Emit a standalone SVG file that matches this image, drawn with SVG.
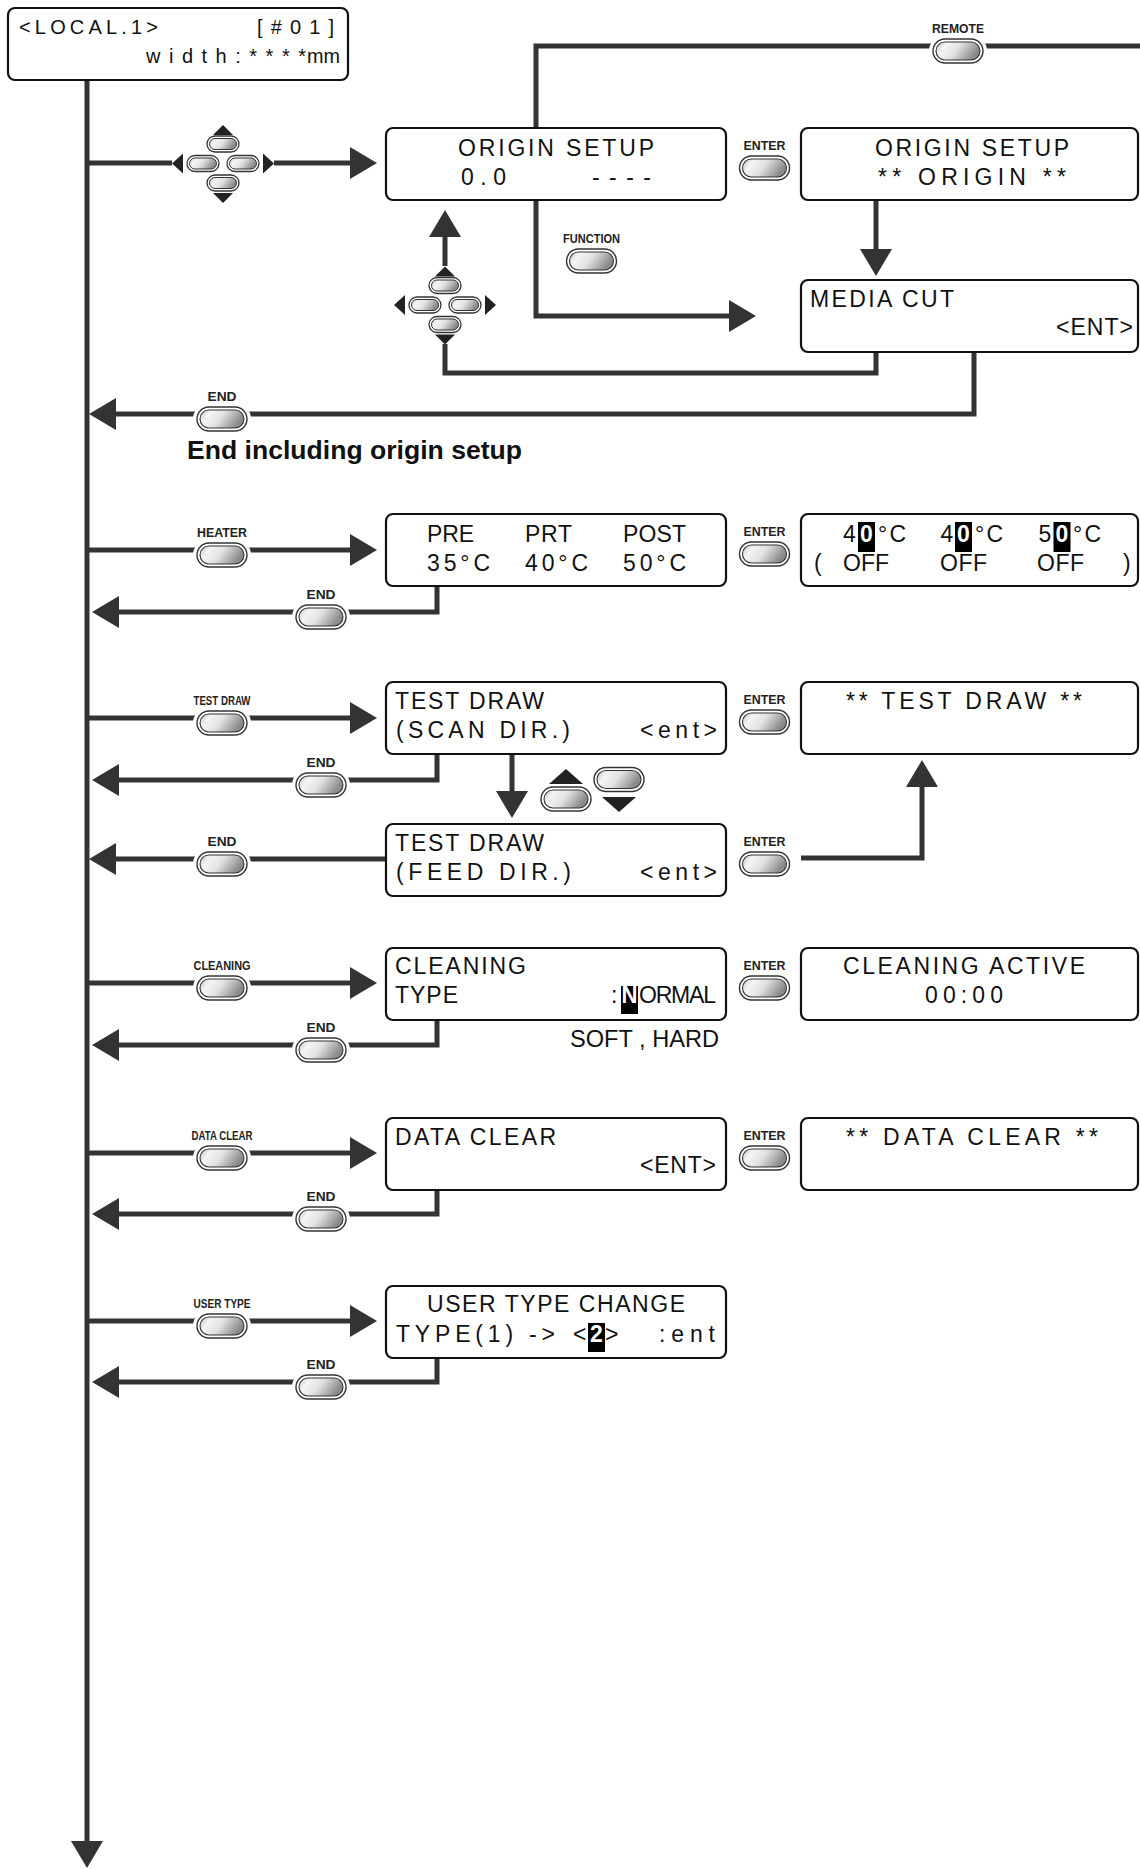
<svg xmlns="http://www.w3.org/2000/svg" xmlns:xlink="http://www.w3.org/1999/xlink" width="1140" height="1869" viewBox="0 0 1140 1869">
<defs>
<style>
.ln{fill:none;stroke:#333;stroke-width:5;stroke-linecap:butt;stroke-linejoin:miter}
.bx{fill:#fff;stroke:#111;stroke-width:2.2}
.lcd{font-family:"Liberation Sans",Arial,sans-serif;font-size:23px;fill:#111}
.sm{font-family:"Liberation Sans",Arial,sans-serif;font-size:20px;fill:#111}
.bl{font-family:"Liberation Sans",Arial,sans-serif;font-weight:bold;font-size:13px;fill:#222}
.hl{fill:#000}
.wt{fill:#fff;font-weight:bold}
.tri{fill:#222}
</style>
<linearGradient id="g" x1="0" y1="0" x2="1" y2="0.3">
<stop offset="0" stop-color="#c4c4c4"/>
<stop offset="0.25" stop-color="#f4f4f4"/>
<stop offset="0.55" stop-color="#e2e2e2"/>
<stop offset="1" stop-color="#8a8a8a"/>
</linearGradient>
<marker id="ah" markerUnits="userSpaceOnUse" viewBox="0 0 27 32" refX="0" refY="16" markerWidth="27" markerHeight="32" orient="auto">
<path d="M0,0 L27,16 L0,32 z" fill="#333"/>
</marker>
<g id="btn">
<rect x="-25" y="-12" width="50" height="24" rx="12" fill="#fff" stroke="#333" stroke-width="1.4"/>
<rect x="-22" y="-9" width="44" height="18" rx="9" fill="url(#g)" stroke="#333" stroke-width="1.1"/>
</g>
<g id="btnh">
<rect x="-29" y="-16" width="58" height="32" rx="16" fill="#fff"/>
<use href="#btn"/>
</g>
<g id="sbtn">
<rect x="-16" y="-8" width="32" height="16" rx="8" fill="#fff" stroke="#333" stroke-width="1.3"/>
<rect x="-13.5" y="-5.5" width="27" height="11" rx="5.5" fill="url(#g)" stroke="#333" stroke-width="1"/>
</g>
<g id="cluster">
<path class="tri" d="M-10,-28.5 L0,-38.5 L10,-28.5 z"/>
<path class="tri" d="M-10,29.5 L0,39.5 L10,29.5 z"/>
<path class="tri" d="M-40,-10 L-51,0 L-40,10 z"/>
<path class="tri" d="M40,-10 L51,0 L40,10 z"/>
<use href="#sbtn" x="0" y="-19.5"/>
<use href="#sbtn" x="0" y="19.5"/>
<use href="#sbtn" x="-20" y="0"/>
<use href="#sbtn" x="20" y="0"/>
</g>
</defs>
<rect width="1140" height="1869" fill="#fff"/>

<g id="connectors">
<path class="ln" d="M87,80 V1841" marker-end="url(#ah)"/>
<path class="ln" d="M87,163 H172"/>
<path class="ln" d="M274,163 H350" marker-end="url(#ah)"/>
<path class="ln" d="M536,128 V46 H1140"/>
<path class="ln" d="M536,201 V316 H729" marker-end="url(#ah)"/>
<path class="ln" d="M876,201 V249" marker-end="url(#ah)"/>
<path class="ln" d="M876,352 V373 H445 V344"/>
<path class="ln" d="M445,266 V237" marker-end="url(#ah)"/>
<path class="ln" d="M974,352 V414 H116" marker-end="url(#ah)"/>
<path class="ln" d="M87,550 H350" marker-end="url(#ah)"/>
<path class="ln" d="M437,586 V612 H119" marker-end="url(#ah)"/>
<path class="ln" d="M87,718 H350" marker-end="url(#ah)"/>
<path class="ln" d="M437,754 V780 H119" marker-end="url(#ah)"/>
<path class="ln" d="M512,754 V791" marker-end="url(#ah)"/>
<path class="ln" d="M385,859 H116" marker-end="url(#ah)"/>
<path class="ln" d="M801,858 H922 V787" marker-end="url(#ah)"/>
<path class="ln" d="M87,983 H350" marker-end="url(#ah)"/>
<path class="ln" d="M437,1020 V1045 H119" marker-end="url(#ah)"/>
<path class="ln" d="M87,1153 H350" marker-end="url(#ah)"/>
<path class="ln" d="M437,1190 V1214 H119" marker-end="url(#ah)"/>
<path class="ln" d="M87,1321 H350" marker-end="url(#ah)"/>
<path class="ln" d="M437,1358 V1382 H119" marker-end="url(#ah)"/>
</g>

<g id="local">
<rect class="bx" x="8" y="8" width="340" height="72" rx="7"/>
<text class="sm" x="19" y="34" textLength="139">&lt;LOCAL.1&gt;</text>
<text class="sm" x="257" y="34" textLength="77">[#01]</text>
<text class="sm" x="146" y="63" textLength="160">width:****</text>
<text class="sm" x="307" y="63" textLength="33" lengthAdjust="spacingAndGlyphs">mm</text>
</g>

<g id="origin-setup">
<rect class="bx" x="386" y="128" width="340" height="72" rx="7"/>
<text class="lcd" x="458" y="156" textLength="196">ORIGIN SETUP</text>
<text class="lcd" x="461" y="185" textLength="45">0.0</text>
<text class="lcd" x="592" y="185" textLength="59">----</text>
</g>

<g id="origin-run">
<rect class="bx" x="801" y="128" width="337" height="72" rx="7"/>
<text class="lcd" x="875" y="156" textLength="194">ORIGIN SETUP</text>
<text class="lcd" x="878" y="185" textLength="188">** ORIGIN **</text>
</g>

<g id="media-cut">
<rect class="bx" x="801" y="280" width="337" height="72" rx="7"/>
<text class="lcd" x="810" y="307" textLength="144">MEDIA CUT</text>
<text class="lcd" x="1056" y="335" textLength="77">&lt;ENT&gt;</text>
</g>

<g id="heater-box">
<rect class="bx" x="386" y="514" width="340" height="72" rx="7"/>
<text class="lcd" x="427" y="542" textLength="47">PRE</text>
<text class="lcd" x="525" y="542" textLength="47">PRT</text>
<text class="lcd" x="623" y="542" textLength="63">POST</text>
<text class="lcd" x="427" y="571" textLength="63">35°C</text>
<text class="lcd" x="525" y="571" textLength="63">40°C</text>
<text class="lcd" x="623" y="571" textLength="63">50°C</text>
</g>

<g id="heater-set">
<rect class="bx" x="801" y="514" width="337" height="72" rx="7"/>
<rect class="hl" x="858" y="522" width="17" height="30"/>
<rect class="hl" x="955" y="522" width="17" height="30"/>
<rect class="hl" x="1053.5" y="522" width="17" height="30"/>
<text class="lcd" x="843" y="542">4</text>
<text class="lcd wt" x="860" y="542">0</text>
<text class="lcd" x="878" y="542" textLength="28">°C</text>
<text class="lcd" x="940.5" y="542">4</text>
<text class="lcd wt" x="957" y="542">0</text>
<text class="lcd" x="975" y="542" textLength="28">°C</text>
<text class="lcd" x="1038.5" y="542">5</text>
<text class="lcd wt" x="1055.5" y="542">0</text>
<text class="lcd" x="1073" y="542" textLength="28">°C</text>
<text class="lcd" x="814" y="571">(</text>
<text class="lcd" x="843" y="571" textLength="46">OFF</text>
<text class="lcd" x="940" y="571" textLength="47">OFF</text>
<text class="lcd" x="1037" y="571" textLength="47">OFF</text>
<text class="lcd" x="1123" y="571">)</text>
</g>

<g id="test-scan">
<rect class="bx" x="386" y="682" width="340" height="72" rx="7"/>
<text class="lcd" x="395" y="709" textLength="149">TEST DRAW</text>
<text class="lcd" x="396" y="738" textLength="174">(SCAN DIR.)</text>
<text class="lcd" x="640" y="738" textLength="77">&lt;ent&gt;</text>
</g>

<g id="test-run">
<rect class="bx" x="801" y="682" width="337" height="72" rx="7"/>
<text class="lcd" x="846" y="709" textLength="236">** TEST DRAW **</text>
</g>

<g id="test-feed">
<rect class="bx" x="386" y="824" width="340" height="72" rx="7"/>
<text class="lcd" x="395" y="851" textLength="149">TEST DRAW</text>
<text class="lcd" x="396" y="880" textLength="175">(FEED DIR.)</text>
<text class="lcd" x="640" y="880" textLength="77">&lt;ent&gt;</text>
</g>

<g id="cleaning-box">
<rect class="bx" x="386" y="948" width="340" height="72" rx="7"/>
<text class="lcd" x="395" y="974" textLength="131">CLEANING</text>
<text class="lcd" x="395" y="1003" textLength="63">TYPE</text>
<rect class="hl" x="621" y="986" width="17" height="28"/>
<text class="lcd" x="611" y="1003">:</text>
<text class="lcd wt" x="621.5" y="1003" textLength="16" lengthAdjust="spacingAndGlyphs">N</text>
<text class="lcd" x="639" y="1003" textLength="77">ORMAL</text>
</g>

<g id="cleaning-run">
<rect class="bx" x="801" y="948" width="337" height="72" rx="7"/>
<text class="lcd" x="843" y="974" textLength="242">CLEANING ACTIVE</text>
<text class="lcd" x="925" y="1003" textLength="78">00:00</text>
</g>

<g id="data-clear-box">
<rect class="bx" x="386" y="1118" width="340" height="72" rx="7"/>
<text class="lcd" x="395" y="1145" textLength="161">DATA CLEAR</text>
<text class="lcd" x="640" y="1173" textLength="76">&lt;ENT&gt;</text>
</g>

<g id="data-clear-run">
<rect class="bx" x="801" y="1118" width="337" height="72" rx="7"/>
<text class="lcd" x="846" y="1145" textLength="252">** DATA CLEAR **</text>
</g>

<g id="user-type-box">
<rect class="bx" x="386" y="1286" width="340" height="72" rx="7"/>
<text class="lcd" x="427" y="1312" textLength="258">USER TYPE CHANGE</text>
<text class="lcd" x="396" y="1342" textLength="159">TYPE(1) -&gt;</text>
<rect class="hl" x="588" y="1323" width="17" height="29"/>
<text class="lcd" x="573" y="1342">&lt;</text>
<text class="lcd wt" x="590" y="1342">2</text>
<text class="lcd" x="605" y="1342">&gt;</text>
<text class="lcd" x="659" y="1342" textLength="56">:ent</text>
</g>

<g id="btn-remote">
<use href="#btnh" x="958" y="51"/>
<text class="bl" x="932" y="33" textLength="52" lengthAdjust="spacingAndGlyphs">REMOTE</text>
</g>
<g id="btn-jog1"><use href="#cluster" x="223" y="163.5"/></g>
<g id="btn-jog2"><use href="#cluster" x="445" y="305"/></g>
<g id="btn-function">
<use href="#btn" x="591.5" y="261"/>
<text class="bl" x="563" y="243" textLength="57" lengthAdjust="spacingAndGlyphs">FUNCTION</text>
</g>
<g id="btn-enter-origin">
<use href="#btn" x="764.5" y="168"/>
<text class="bl" x="743.5" y="150" textLength="42" lengthAdjust="spacingAndGlyphs">ENTER</text>
</g>
<g id="btn-end-origin">
<use href="#btnh" x="222" y="419"/>
<text class="bl" x="207.5" y="401" textLength="29" lengthAdjust="spacingAndGlyphs">END</text>
</g>
<text id="end-note" x="187" y="459" font-family="'Liberation Sans',Arial,sans-serif" font-weight="bold" font-size="26" fill="#111" textLength="335" lengthAdjust="spacingAndGlyphs">End including origin setup</text>

<g id="btn-heater">
<use href="#btnh" x="222" y="555"/>
<text class="bl" x="197" y="537" textLength="50" lengthAdjust="spacingAndGlyphs">HEATER</text>
</g>
<g id="btn-end-heater">
<use href="#btnh" x="321" y="617"/>
<text class="bl" x="306.5" y="599" textLength="29" lengthAdjust="spacingAndGlyphs">END</text>
</g>
<g id="btn-enter-heater">
<use href="#btn" x="764.5" y="554"/>
<text class="bl" x="743.5" y="536" textLength="42" lengthAdjust="spacingAndGlyphs">ENTER</text>
</g>

<g id="btn-testdraw">
<use href="#btnh" x="222" y="723"/>
<text class="bl" x="193.5" y="705" textLength="57" lengthAdjust="spacingAndGlyphs">TEST DRAW</text>
</g>
<g id="btn-end-test">
<use href="#btnh" x="321" y="785"/>
<text class="bl" x="306.5" y="767" textLength="29" lengthAdjust="spacingAndGlyphs">END</text>
</g>
<g id="btn-enter-test">
<use href="#btn" x="764.5" y="722"/>
<text class="bl" x="743.5" y="704" textLength="42" lengthAdjust="spacingAndGlyphs">ENTER</text>
</g>
<g id="btn-updown">
<path class="tri" d="M549,784 L566,769 L583,784 z"/>
<use href="#btn" x="566" y="799"/>
<use href="#btn" x="619" y="779.5"/>
<path class="tri" d="M602,797 L619,812 L636,797 z"/>
</g>
<g id="btn-end-feed">
<use href="#btnh" x="222" y="864"/>
<text class="bl" x="207.5" y="846" textLength="29" lengthAdjust="spacingAndGlyphs">END</text>
</g>
<g id="btn-enter-feed">
<use href="#btnh" x="764.5" y="864"/>
<text class="bl" x="743.5" y="846" textLength="42" lengthAdjust="spacingAndGlyphs">ENTER</text>
</g>

<g id="btn-cleaning">
<use href="#btnh" x="222" y="988"/>
<text class="bl" x="193.5" y="970" textLength="57" lengthAdjust="spacingAndGlyphs">CLEANING</text>
</g>
<g id="btn-end-cleaning">
<use href="#btnh" x="321" y="1050"/>
<text class="bl" x="306.5" y="1032" textLength="29" lengthAdjust="spacingAndGlyphs">END</text>
</g>
<g id="btn-enter-cleaning">
<use href="#btn" x="764.5" y="988"/>
<text class="bl" x="743.5" y="970" textLength="42" lengthAdjust="spacingAndGlyphs">ENTER</text>
</g>
<text id="soft-hard" x="570" y="1047" font-family="'Liberation Sans',Arial,sans-serif" font-size="24" fill="#111" textLength="149" lengthAdjust="spacingAndGlyphs">SOFT , HARD</text>

<g id="btn-dataclear">
<use href="#btnh" x="222" y="1158"/>
<text class="bl" x="191.5" y="1140" textLength="61" lengthAdjust="spacingAndGlyphs">DATA CLEAR</text>
</g>
<g id="btn-end-dataclear">
<use href="#btnh" x="321" y="1219"/>
<text class="bl" x="306.5" y="1201" textLength="29" lengthAdjust="spacingAndGlyphs">END</text>
</g>
<g id="btn-enter-dataclear">
<use href="#btn" x="764.5" y="1158"/>
<text class="bl" x="743.5" y="1140" textLength="42" lengthAdjust="spacingAndGlyphs">ENTER</text>
</g>

<g id="btn-usertype">
<use href="#btnh" x="222" y="1326"/>
<text class="bl" x="193.5" y="1308" textLength="57" lengthAdjust="spacingAndGlyphs">USER TYPE</text>
</g>
<g id="btn-end-usertype">
<use href="#btnh" x="321" y="1387"/>
<text class="bl" x="306.5" y="1369" textLength="29" lengthAdjust="spacingAndGlyphs">END</text>
</g>
</svg>
